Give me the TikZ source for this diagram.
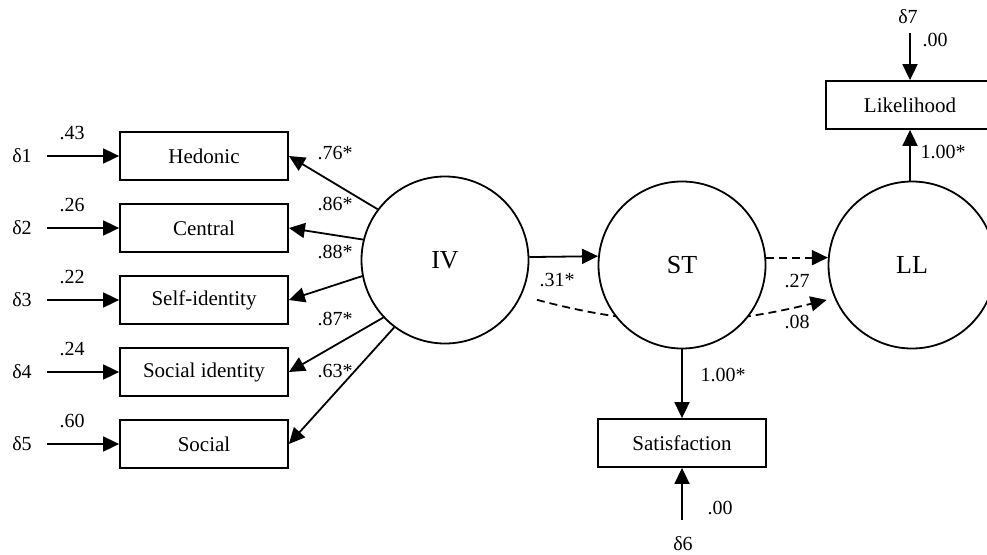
\documentclass[tikz,border=0pt]{standalone}
\usepackage{fontspec}
\setmainfont{Liberation Serif}
\usetikzlibrary{arrows.meta,backgrounds}
\tikzset{
  box/.style={draw,line width=1.8pt,minimum width=168pt,minimum height=48pt,inner sep=0pt,font=\fontsize{21}{25}\selectfont},
  latent/.style={draw,circle,line width=1.8pt,minimum size=167pt,inner sep=0pt,fill=white,font=\fontsize{26}{30}\selectfont},
  val/.style={inner sep=0pt,font=\fontsize{20}{24}\selectfont},
  arr/.style={line width=1.8pt,-{Triangle[length=16pt,width=15pt]}},
  darr/.style={arr,dash pattern=on 8pt off 5pt}
}
\begin{document}
\begin{tikzpicture}[x=1pt,y=-1pt]
  \useasboundingbox (0,0) rectangle (987,554);
  \clip (0,0) rectangle (987,554);
  % indicators
  \node[box] (hed) at (204,156) {Hedonic};
  \node[box] (cen) at (204,228) {Central};
  \node[box] (self) at (204,300) {Self-identity};
  \node[box] (socid) at (204,372) {Social identity};
  \node[box] (soc) at (204,444) {Social};
  \node[box] (sat) at (682,443) {Satisfaction};
  \node[box] (lik) at (910,105) {Likelihood};
  % latent variables
  \node[latent] (iv) at (445,260) {IV};
  \node[latent] (st) at (682,265) {ST};
  \node[latent] (ll) at (912,265) {LL};
  % errors
  \foreach \i/\y/\v/\b in {1/156/.43/hed,2/228/.26/cen,3/300/.22/self,4/372/.24/socid,5/444/.60/soc}{
    \node[val] (d\i) at (22,\y) {δ\i};
    \coordinate (e\i) at (47,\y);
    \node[val] (r\i) at (72,\y-23) {\v};
    \draw[arr] (e\i) -- (\b);
  }
  \node[val] (d6) at (683,544) {δ6};
  \coordinate (e6) at (682,520);
  \node[val] (r6) at (720,508) {.00};
  \draw[arr] (e6) -- (sat);
  \node[val] (d7) at (908,17) {δ7};
  \coordinate (e7) at (910,33);
  \node[val] (r7) at (935,40) {.00};
  \draw[arr] (e7) -- (lik);
  % loadings
  \draw[arr] (iv.143) -- (hed.east);
  \draw[arr] (iv.166) -- (cen.east);
  \draw[arr] (iv.191) -- (self.east);
  \draw[arr] (iv.223) -- (socid.east);
  \draw[arr] (iv.233) -- (soc.east);
  \node[val] (l1) at (335,153) {.76*};
  \node[val] (l2) at (335,204) {.86*};
  \node[val] (l3) at (335,252) {.88*};
  \node[val] (l4) at (335,319) {.87*};
  \node[val] (l5) at (335,371) {.63*};
  % paths
  \draw[arr] (iv.2) -- (st.174);
  \draw[darr] (st.5) -- (ll.175);
  \begin{scope}[on background layer]
    \draw[darr,shorten <=16pt,shorten >=8pt] (iv.-25) to[out=-15,in=194] (ll.203);
  \end{scope}
  \draw[arr] (st.south) -- (sat.north);
  \draw[arr] (ll.north-|lik.south) -- (lik.south);
  \node[val] (p1) at (557,280) {.31*};
  \node[val] (p2) at (797,281) {.27};
  \node[val] (p3) at (797,322) {.08};
  \node[val] (p4) at (723,375) {1.00*};
  \node[val] (p5) at (943,152) {1.00*};
\end{tikzpicture}
\end{document}
